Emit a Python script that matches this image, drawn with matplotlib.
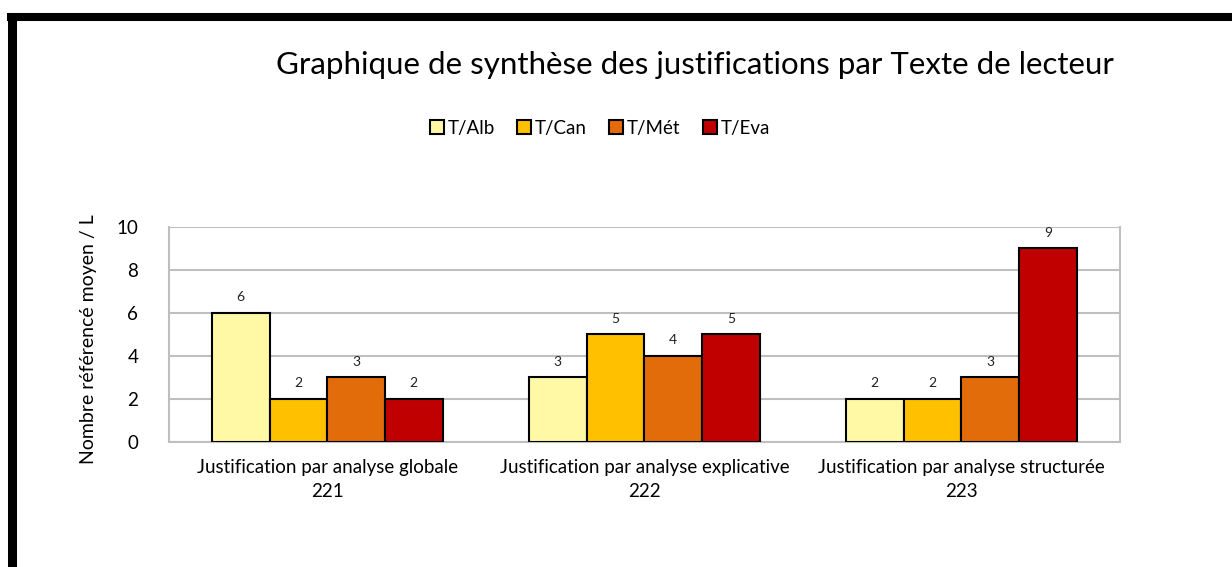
import numpy as np
import matplotlib.pyplot as plt
from matplotlib.lines import Line2D

plt.rcParams['font.family'] = ['Lato', 'DejaVu Sans']

# data
categories = ['Justification par analyse globale\n221',
              'Justification par analyse explicative\n222',
              'Justification par analyse structurée\n223']
series_names = ['T/Alb', 'T/Can', 'T/Mét', 'T/Eva']
t_alb = [6, 3, 2]
t_can = [2, 5, 2]
t_met = [3, 4, 3]
t_eva = [2, 5, 9]
colors = ['#FFF9A5', '#FFC000', '#E36C0A', '#C00000']

values = [t_alb, t_can, t_met, t_eva]

fig = plt.figure(figsize=(12.32, 5.67), dpi=100)
ax = fig.add_axes([0.137, 0.2205, 0.772, 0.3792])

x = np.arange(len(categories))
w = 0.182
for i, (name, vals, c) in enumerate(zip(series_names, values, colors)):
    pos = x + (i - 1.5) * w
    bars = ax.bar(pos, vals, width=w, color=c, edgecolor='black', linewidth=1.5,
                  label=name, zorder=3)
    for b, v in zip(bars, vals):
        ax.text(b.get_x() + b.get_width() / 2, v + 0.45, str(v),
                ha='center', va='bottom', fontsize=10, color='#222222')

ax.set_xlim(-0.5, 2.5)
ax.set_ylim(0, 10)
ax.set_yticks([0, 2, 4, 6, 8, 10])
ax.yaxis.grid(True, color='#BFBFBF', linewidth=1.5, zorder=0)
ax.set_axisbelow(True)
for s in ['left', 'right', 'bottom']:
    ax.spines[s].set_color('#BFBFBF')
    ax.spines[s].set_linewidth(1.5)
ax.spines['top'].set_visible(False)
ax.tick_params(axis='both', length=0, colors='black')
ax.tick_params(axis='x', pad=12, labelsize=13.5)
ax.tick_params(axis='y', pad=22, labelsize=13.5)
ax.set_xticks(x)
ax.set_xticklabels(categories, linespacing=1.5)
ax.set_ylabel('Nombre référencé moyen / L', fontsize=14)
ax.yaxis.set_label_coords(-0.075, 0.48)

fig.text(0.564, 0.885, 'Graphique de synthèse des justifications par Texte de lecteur',
         ha='center', va='center', fontsize=22.5)

fig.legend(loc='center', bbox_to_anchor=(0.487, 0.774), ncol=4, frameon=False,
           fontsize=13.5, handlelength=0.75, handleheight=0.75, handletextpad=0.2,
           columnspacing=1.2)

# black border lines of the original frame
fig.add_artist(Line2D([7 / 1232, 1], [1 - 17 / 567, 1 - 17 / 567],
                      transform=fig.transFigure, color='black', linewidth=5.8,
                      solid_capstyle='butt'))
fig.add_artist(Line2D([11.5 / 1232, 11.5 / 1232], [0, 1 - 13 / 567],
                      transform=fig.transFigure, color='black', linewidth=6.5,
                      solid_capstyle='butt'))

fig.savefig('out.png', dpi=100)
